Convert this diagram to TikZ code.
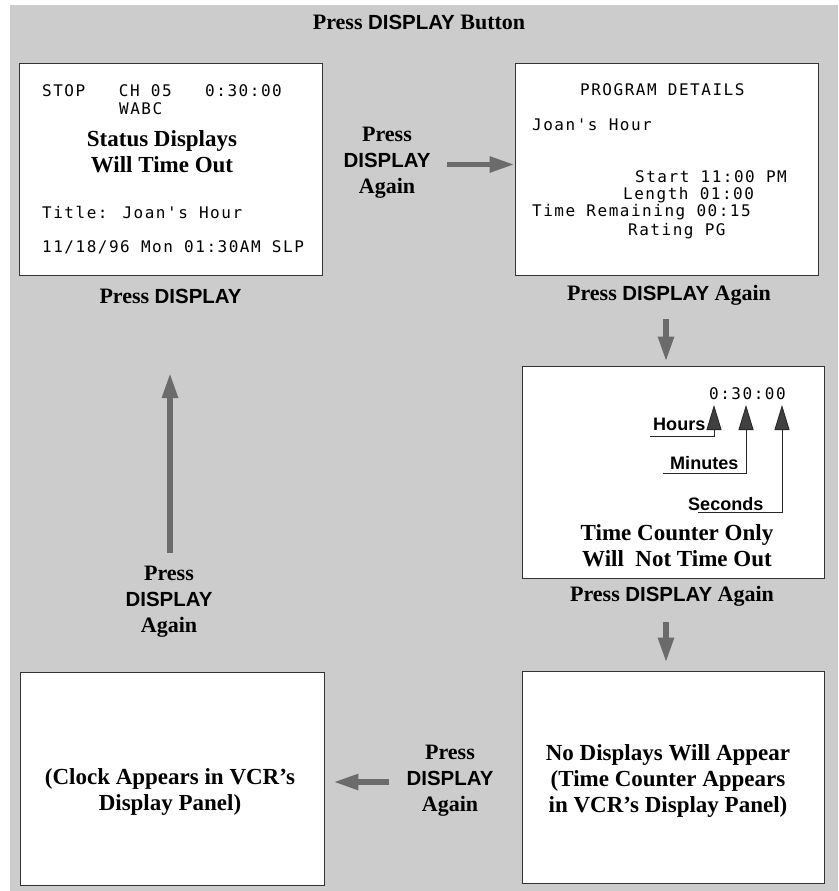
\documentclass[tikz,border=0pt]{standalone}
\usepackage{fontspec}
\setmainfont{Liberation Serif}
\newfontfamily\hvfont[Scale=0.93]{Liberation Sans}
\newfontfamily\lcdfont[LetterSpace=9.5,Ligatures=TeXOff]{DejaVu Sans Mono}
\usetikzlibrary{arrows.meta, positioning, calc}
\definecolor{panel}{HTML}{CCCCCC}
\definecolor{arrowgray}{HTML}{6B6B6B}
\newcommand{\disp}{{\hvfont\bfseries DISPLAY}}
\newcommand{\lcdtype}{\fontsize{16}{18}\lcdfont\spaceskip 11.2pt\relax}

\begin{document}
\begin{tikzpicture}[
    x=1pt, y=-1pt,
    screen/.style={draw=black!80, fill=white, line width=0.9pt, minimum width=303pt, minimum height=212pt, inner sep=0},
    lcd/.style={anchor=base west, inner sep=0, font=\lcdtype},
    msg/.style={inner sep=0, align=center, font=\fontsize{23}{26}\selectfont\bfseries},
    lbl/.style={inner sep=0, align=center, font=\fontsize{22}{26}\selectfont\bfseries},
    tag/.style={anchor=base west, inner sep=0, font=\fontsize{19.4}{22}\hvfont\bfseries},
    bigarr/.style={arrowgray, line width=5.5pt, -{Triangle[length=25pt,width=15pt]}},
    ptr/.style={black!85, line width=0.9pt, -{Triangle[length=25pt,width=15pt,fill=black!75]}}
]
\useasboundingbox (0,0) rectangle (838,891);
\fill[panel] (10,5) rectangle (838,891);

\node[lbl, anchor=base] (title) at (419,30) {Press \disp{} Button};

% screens
\node[screen] (tl) at (170.5,169.5) {};
\node[screen] (tr) at (666.5,169) {};
\node[screen, minimum width=302pt] (mr) at (673,472) {};
\node[screen, minimum width=304pt, minimum height=213pt] (bl) at (172,778.5) {};
\node[screen, minimum width=302pt] (br) at (673,777) {};

% status display
\node[lcd] (st1) at (42,96.5) {STOP\ \ \ CH 05\ \ \ 0:30:00};
\node[lcd] (st2) at (119,114) {WABC};
\node[msg] (stmsg) at (162,152) {Status Displays\\Will Time Out};
\node[lcd] (st3) at (42,218) {Title: Joan's Hour};
\node[lcd] (st4) at (42,252) {11/18/96 Mon 01:30AM SLP};
\node[lbl, below=13pt of tl] (tllbl) {Press \disp};

% program details
\node[lcd] (pg1) at (580,95) {PROGRAM DETAILS};
\node[lcd] (pg2) at (532,130.7) {Joan's Hour};
\node[lcd] (pg3) at (635,182.7) {Start 11:00 PM};
\node[lcd] (pg4) at (623,199) {Length 01:00};
\node[lcd] (pg5) at (532,216.7) {Time Remaining 00:15};
\node[lcd] (pg6) at (628,235) {Rating PG};
\node[lbl, anchor=base] (trlbl) at (669,300) {Press \disp{} Again};

% time counter
\node[lcd] (ctr) at (709,399) {0:30:00};
\node[tag] (hrs) at (653,430) {Hours};
\node[tag] (mins) at (670,469) {Minutes};
\node[tag] (secs) at (688,510) {Seconds};
\coordinate (hrtip) at (714,405);
\coordinate (mntip) at (746,405);
\coordinate (sctip) at (782,405);
\draw[ptr] (650,436) -- (hrtip |- 0,436) -- (hrtip);
\draw[ptr] (663,473.3) -- (mntip |- 0,473.3) -- (mntip);
\draw[ptr] (698,512.7) -- (sctip |- 0,512.7) -- (sctip);
\node[msg] (ctrmsg) at (677,546) {Time Counter Only\\Will\ \ Not Time Out};
\node[lbl, anchor=base] (mrlbl) at (672,601.7) {Press \disp{} Again};

% no display / clock
\node[msg] (nomsg) at (668,780.5) {No Displays Will Appear\\(Time Counter Appears\\in VCR’s Display Panel)};
\node[msg] (clkmsg) at (170,792) {(Clock Appears in VCR’s\\Display Panel)};

% side labels
\node[lbl] (pd1) at (387,163) {Press\\\disp\\Again};
\node[lbl] (pd2) at (169,602) {Press\\\disp\\Again};
\node[lbl] (pd3) at (450,780.5) {Press\\\disp\\Again};

% arrows
\coordinate (a1) at (447,164.5);
\coordinate (a2) at (666,319);
\coordinate (a3) at (666,622);
\coordinate (a4) at (389,782);
\coordinate (a5) at (170,553);
\coordinate (a6) at (170,373);
\draw[bigarr] (a1) -- (a1 -| tr.west);
\draw[bigarr] (a2) -- ([yshift=4pt]a2 |- mr.north);
\draw[bigarr] (a3) -- ([yshift=8pt]a3 |- br.north);
\draw[bigarr] (a4) -- ([xshift=9pt]a4 -| bl.east);
\draw[bigarr] (a5) -- (a6);
\end{tikzpicture}
\end{document}
